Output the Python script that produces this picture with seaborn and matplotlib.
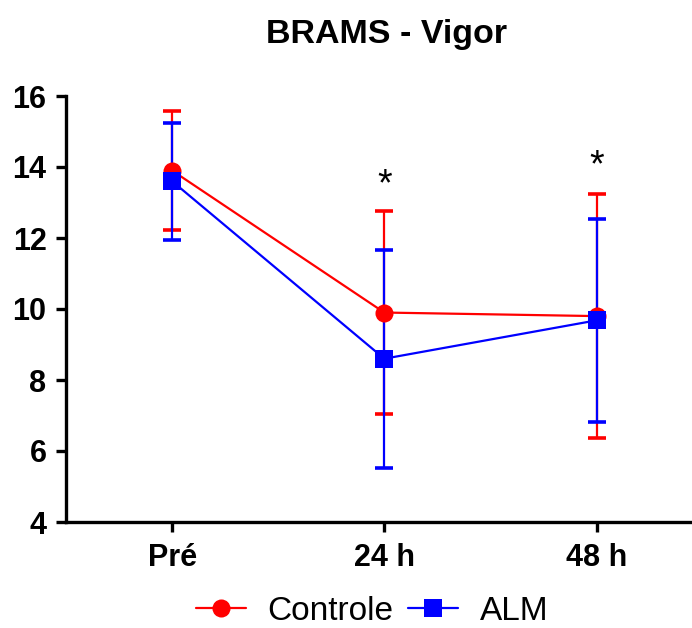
import matplotlib
matplotlib.use("Agg")
import matplotlib.pyplot as plt
import seaborn as sns
import pandas as pd
import numpy as np

categories = ["Pré", "24 h", "48 h"]
controle_mean = [13.9, 9.9, 9.8]
controle_err = [1.67, 2.85, 3.43]
alm_mean = [13.6, 8.6, 9.68]
alm_err = [1.65, 3.07, 2.85]
star_positions = [1, 2]
star_heights = [13.48, 14.02]
title = "BRAMS - Vigor"
yticks = [4, 6, 8, 10, 12, 14, 16]

sns.set_theme(style="ticks")
plt.rcParams['font.family'] = ['Liberation Sans', 'DejaVu Sans']
plt.rcParams['text.color'] = 'black'
plt.rcParams['xtick.color'] = 'black'
plt.rcParams['ytick.color'] = 'black'
plt.rcParams['axes.labelcolor'] = 'black'

fig = plt.figure(figsize=(6.92, 6.28), dpi=100)
ax = fig.add_axes([66/692, 106/628, 1 - 66/692, (522-96)/628])

x = np.arange(len(categories))
df = pd.DataFrame({
    "x": np.concatenate([x, x]),
    "y": controle_mean + alm_mean,
    "grupo": ["Controle"] * 3 + ["ALM"] * 3,
})

colors = {"Controle": "#FF0000", "ALM": "#0000FF"}

# error bars
ax.errorbar(x, controle_mean, yerr=controle_err, fmt="none", ecolor=colors["Controle"],
            elinewidth=1.6, capsize=6.5, capthick=2.6, zorder=2)
ax.errorbar(x, alm_mean, yerr=alm_err, fmt="none", ecolor=colors["ALM"],
            elinewidth=1.6, capsize=6.5, capthick=2.6, zorder=3)

sns.lineplot(data=df, x="x", y="y", hue="grupo", style="grupo",
             palette=colors, markers={"Controle": "o", "ALM": "s"},
             dashes=False, markersize=13, markeredgewidth=0, linewidth=1.6,
             ax=ax, legend=False, zorder=4)

for xp, yh in zip(star_positions, star_heights):
    ax.text(xp, yh, "*", ha="center", va="center", fontsize=27, color="black")

ax.set_xlim(-0.5, 2.45)
ax.set_ylim(4, 16)
ax.set_xticks(x)
ax.set_xticklabels(categories, fontsize=22, fontweight="bold")
ax.set_yticks(yticks)
ax.set_yticklabels([str(t) for t in yticks], fontsize=22, fontweight="bold")
ax.set_xlabel("")
ax.set_ylabel("")
for s in ["top", "right"]:
    ax.spines[s].set_visible(False)
for s in ["left", "bottom"]:
    ax.spines[s].set_linewidth(2.4)
    ax.spines[s].set_color("black")
ax.tick_params(axis="both", width=2.4, length=7, color="black", pad=7)
ax.tick_params(axis="x", pad=8)

fig.text(387/692, 1 - 34/628, title, ha="center", va="center", fontsize=24.5, fontweight="bold")

from matplotlib.lines import Line2D
handles = [
    Line2D([0], [0], color=colors["Controle"], marker="o", markersize=13, linewidth=1.6, markeredgewidth=0),
    Line2D([0], [0], color=colors["ALM"], marker="s", markersize=13, linewidth=1.6, markeredgewidth=0),
]
fig.legend(handles, ["Controle", "ALM"], loc="center", bbox_to_anchor=(372/692, 1 - 611/628),
           ncol=2, frameon=False, fontsize=24, handlelength=1.5, columnspacing=0.45, handletextpad=0.65,
           borderpad=0)

fig.savefig("out.png", dpi=100)
